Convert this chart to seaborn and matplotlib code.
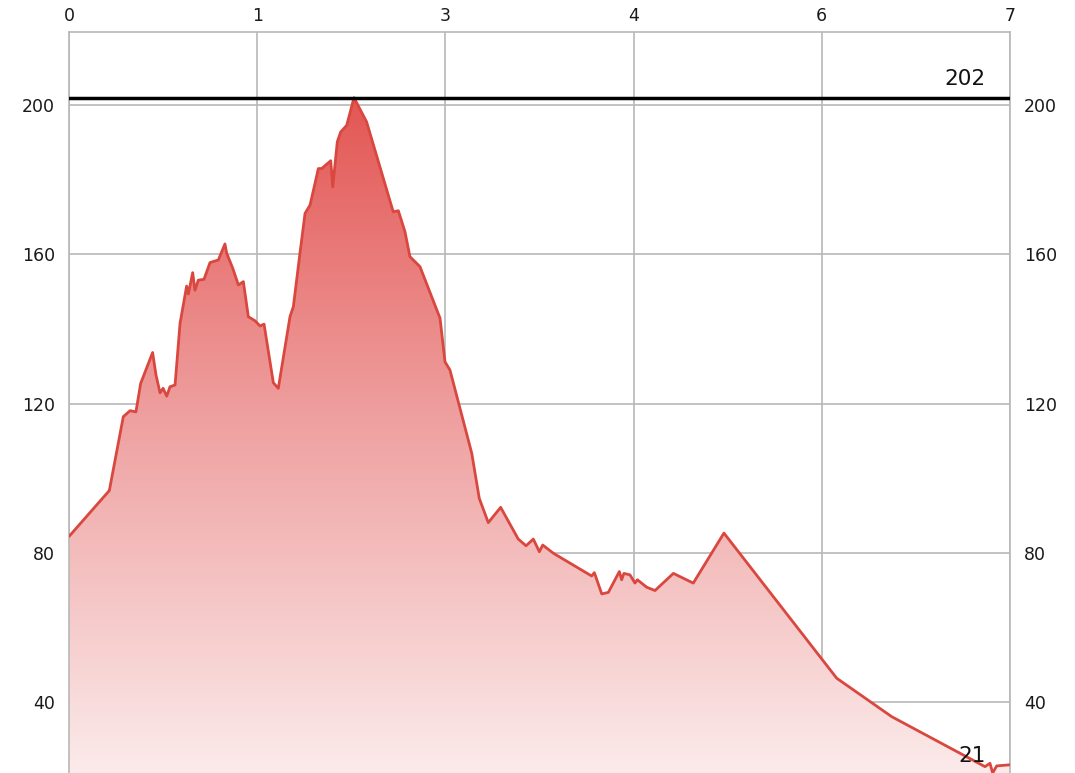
import numpy as np
import pandas as pd
import matplotlib
matplotlib.use("Agg")
import matplotlib.pyplot as plt
import seaborn as sns
from matplotlib.colors import LinearSegmentedColormap

# elevation profile
dist_km = [0.00, 0.30, 0.404, 0.454, 0.498, 0.533, 0.622, 0.647, 0.677, 0.70,
           0.727, 0.751, 0.789, 0.826, 0.875, 0.888, 0.920, 0.937, 0.962, 1.004,
           1.049, 1.111, 1.160, 1.173, 1.218, 1.260, 1.297, 1.334, 1.384, 1.421,
           1.451, 1.520, 1.557, 1.644, 1.669, 1.718, 1.756, 1.793, 1.855, 1.880,
           1.947, 1.962, 1.996, 2.021, 2.066, 2.120, 2.214, 2.412, 2.450, 2.499,
           2.536, 2.611, 2.760, 2.797, 2.834, 2.996, 3.052, 3.119, 3.211, 3.342,
           3.400, 3.454, 3.499, 3.524, 3.603, 3.888, 3.908, 3.963, 4.012, 4.094,
           4.111, 4.128, 4.173, 4.210, 4.228, 4.297, 4.359, 4.496, 4.644, 4.872,
           5.711, 6.120, 6.814, 6.851, 6.871, 6.901, 7.00]
elev_m = [84.4, 96.7, 116.5, 118.1, 117.8, 125.4, 133.7, 127.7, 122.9, 124.1,
          122.0, 124.5, 125.0, 141.5, 151.5, 149.4, 155.1, 150.4, 153.1, 153.3,
          157.8, 158.5, 162.8, 160.3, 156.3, 151.8, 152.7, 143.3, 142.2, 140.8,
          141.3, 125.6, 124.1, 143.3, 146.0, 160.3, 171.0, 173.2, 183.0, 183.0,
          185.1, 178.1, 190.2, 192.8, 194.6, 202.0, 195.5, 171.4, 171.7, 166.1,
          159.4, 156.7, 142.9, 131.2, 129.0, 106.7, 94.6, 88.1, 92.2, 83.7,
          81.9, 83.7, 80.3, 82.1, 79.9, 73.8, 74.7, 69.0, 69.4, 75.0,
          72.8, 74.5, 74.1, 71.9, 72.8, 70.8, 69.9, 74.5, 71.9, 85.3,
          46.4, 36.1, 22.7, 23.6, 21.0, 22.9, 23.2]
y_ticks = [40, 80, 120, 160, 200]

df = pd.DataFrame({"dist": dist_km, "elev": elev_m})
e_max = df["elev"].max()
e_min = df["elev"].min()
x_end = df["dist"].max()

sns.set_style("white")
plt.rcParams["font.family"] = ["DejaVu Sans"]

fig = plt.figure(figsize=(10.75, 7.73), dpi=100)
ax = fig.add_axes([69 / 1075, 0.0, 941 / 1075, 1 - 32 / 773])

# gradient fill under the profile
cmap = LinearSegmentedColormap.from_list(
    "elev", [(0.99, 0.935, 0.935), (0.94, 0.65, 0.65), (0.89, 0.34, 0.33)])
poly = ax.fill_between(df["dist"], df["elev"], e_min - 5, color="none", lw=0)
grad = np.linspace(0, 1, 256).reshape(-1, 1)
img = ax.imshow(grad, cmap=cmap, origin="lower", aspect="auto",
                extent=[0, x_end, e_min - 5, e_max], zorder=1)
img.set_clip_path(poly.get_paths()[0], transform=ax.transData)

sns.lineplot(data=df, x="dist", y="elev", ax=ax, color="#d9473f",
             linewidth=2, zorder=3, sort=False)

# max line + labels
ax.axhline(e_max, color="black", lw=2.5, zorder=4)
ax.text(6.82, e_max + 2.3, f"{e_max:.0f}", ha="right", va="bottom",
        fontsize=15.5, color="#111111", zorder=5)
ax.text(6.82, e_min + 2.0, f"{e_min:.0f}", ha="right", va="bottom",
        fontsize=15.5, color="#111111", zorder=5)

ax.set_xlim(0, x_end)
ax.set_ylim(e_min, 219.6)
xt = np.linspace(0, x_end, 6)
ax.set_xticks(xt)
ax.set_xticklabels([f"{round(v):.0f}" for v in xt])
ax.set_yticks(y_ticks)
ax.set_yticklabels([str(v) for v in y_ticks])
ax.xaxis.tick_top()
ax.tick_params(axis="x", length=0, pad=5, labelsize=12.5, labelcolor="#1a1a1a")
ax.tick_params(axis="y", length=0, pad=10, labelsize=12.5, labelcolor="#1a1a1a",
               left=True, right=True, labelleft=True, labelright=True)
ax.grid(True, color="#b8b8b8", lw=1.2)
ax.set_axisbelow(True)
for side in ["left", "right", "top"]:
    ax.spines[side].set_color("#b8b8b8")
    ax.spines[side].set_linewidth(1.2)
ax.spines["bottom"].set_visible(False)
ax.set_xlabel("")
ax.set_ylabel("")

fig.savefig("out.png", dpi=100)
